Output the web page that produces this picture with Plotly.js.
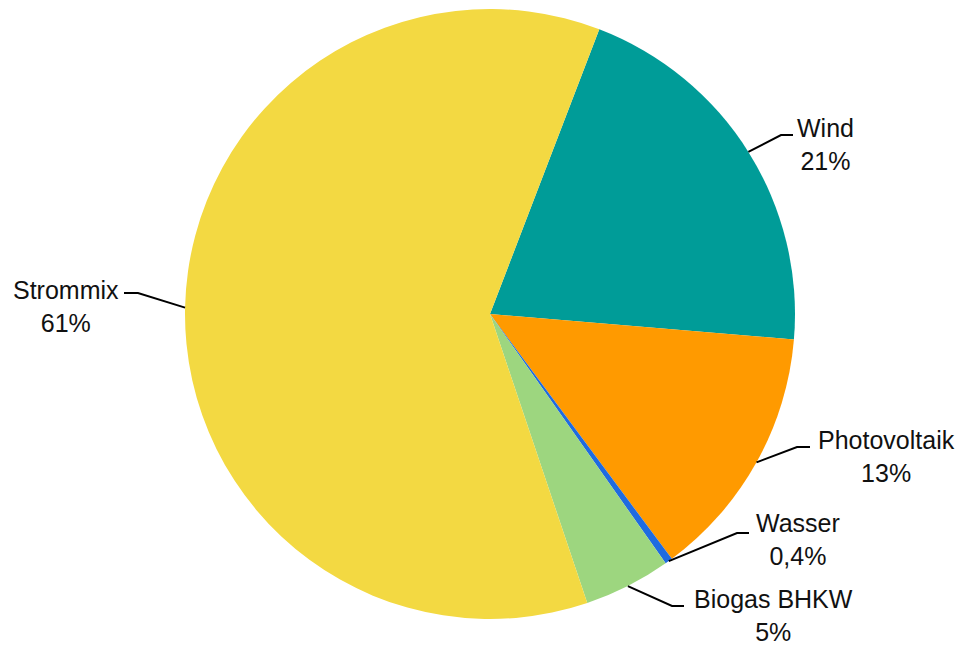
<!DOCTYPE html>
<html>
<head>
<meta charset="utf-8">
<script src="https://cdn.plot.ly/plotly-3.0.1.min.js"></script>
<style>
  html, body { margin: 0; padding: 0; background: #ffffff; }
  #chart { width: 963px; height: 648px; }
</style>
</head>
<body>
<div id="chart"></div>
<script>
// ---- data ----
const categories = ["Wind", "Photovoltaik", "Wasser", "Biogas BHKW", "Strommix"];
const shares = [20.5, 13.5, 0.4, 4.6, 61.0];
const shareLabels = ["21%", "13%", "0,4%", "5%", "61%"];
const sliceColors = ["#009C98", "#FF9A00", "#1F6BE0", "#9DD67F", "#F3D942"];

// ---- layout geometry (pixels) ----
const W = 963, H = 648;
const CX = 490, CY = 314, R = 305;
const START_ANGLE = 21; // degrees clockwise from 12 o'clock

// label block centres and leader-line elbows/ends (pixels)
const labelPlacement = [
  { cx: 825, cy: 144, elbow: [781, 135], end: [793, 135] },
  { cx: 886, cy: 456, elbow: [797, 447], end: [810, 447] },
  { cx: 798, cy: 539, elbow: [737, 533], end: [749, 533] },
  { cx: 773, cy: 615, elbow: [672, 606], end: [684, 606] },
  { cx: 66,  cy: 306, elbow: [138, 293], end: [124, 293] }
];

const px = x => x / W;
const py = y => 1 - y / H;

// slice mid angles from data
const total = shares.reduce((a, b) => a + b, 0);
let acc = START_ANGLE;
const midAngles = shares.map(v => {
  const span = v / total * 360;
  const mid = acc + span / 2;
  acc += span;
  return mid;
});

const annotations = [];
const shapes = [];
categories.forEach((c, i) => {
  const lp = labelPlacement[i];
  annotations.push({
    x: px(lp.cx), y: py(lp.cy), xref: 'paper', yref: 'paper',
    xanchor: 'center', yanchor: 'middle', showarrow: false, align: 'center',
    text: c + '<br>' + shareLabels[i],
    font: { family: 'Liberation Sans, Arial, sans-serif', size: 25, color: '#111111' }
  });
  const a = midAngles[i] * Math.PI / 180;
  const sx = CX + R * Math.sin(a), sy = CY - R * Math.cos(a);
  const path = 'M ' + px(sx) + ' ' + py(sy) +
               ' L ' + px(lp.elbow[0]) + ' ' + py(lp.elbow[1]) +
               ' L ' + px(lp.end[0]) + ' ' + py(lp.end[1]);
  shapes.push({ type: 'path', xref: 'paper', yref: 'paper', path: path,
                line: { color: '#000000', width: 2 } });
});

const trace = {
  type: 'pie',
  labels: categories,
  values: shares,
  sort: false,
  direction: 'clockwise',
  rotation: START_ANGLE,
  marker: { colors: sliceColors, line: { width: 0 } },
  textinfo: 'none',
  hoverinfo: 'label+percent',
  domain: { x: [px(CX - R), px(CX + R)], y: [py(CY + R), py(CY - R)] }
};

const layout = {
  width: W, height: H,
  margin: { l: 0, r: 0, t: 0, b: 0 },
  showlegend: false,
  paper_bgcolor: '#ffffff',
  annotations: annotations,
  shapes: shapes
};

Plotly.newPlot('chart', [trace], layout, { displayModeBar: false, staticPlot: true });
</script>
</body>
</html>
